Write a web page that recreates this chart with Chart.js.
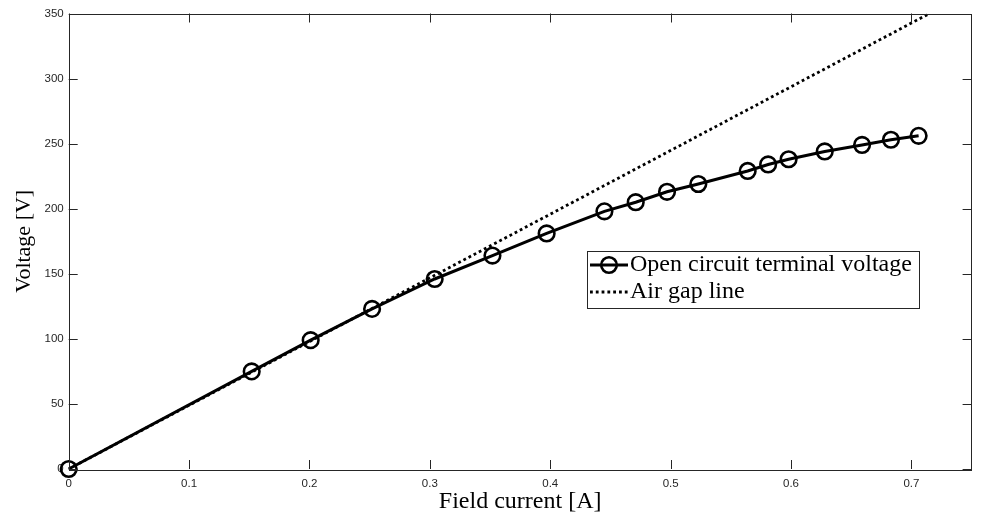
<!DOCTYPE html>
<html>
<head>
<meta charset="utf-8">
<script src="https://cdn.jsdelivr.net/npm/chart.js@4"></script>
<style>
  html, body { margin: 0; padding: 0; background: #fff; }
  #wrap { width: 982px; height: 517px; position: relative; }
</style>
</head>
<body>
<div id="wrap"><canvas id="c" width="982" height="517"></canvas></div>
<script>
// ---- data ----
const fieldCurrent = [0, 0.152, 0.201, 0.252, 0.304, 0.352, 0.397, 0.445, 0.471, 0.497, 0.523, 0.564, 0.581, 0.598, 0.628, 0.659, 0.683, 0.706];
const terminalVoltage = [0, 75, 99, 123, 146, 164, 181, 198, 205, 213, 219, 229, 234, 238, 244, 249, 253, 256];
const airGapCurrent = [0, 0.715];
const airGapVoltage = [0, 350];
const xTicks = [0, 0.1, 0.2, 0.3, 0.4, 0.5, 0.6, 0.7];
const yTicks = [0, 50, 100, 150, 200, 250, 300, 350];
const seriesNames = ['Open circuit terminal voltage', 'Air gap line'];
const xTitle = 'Field current [A]';
const yTitle = 'Voltage [V]';

const AXIS = '#262626';
const SERIF = '"Liberation Serif", "Times New Roman", serif';
const SANS = '"Liberation Sans", Arial, Helvetica, sans-serif';

const curve = fieldCurrent.map((x, i) => ({x, y: terminalVoltage[i]}));
const airGap = airGapCurrent.map((x, i) => ({x, y: airGapVoltage[i]}));

// Inward ticks on all four sides + box
const boxPlugin = {
  id: 'box',
  afterDatasetsDraw(chart) {
    const {ctx, chartArea: a, scales: {x, y}} = chart;
    ctx.save();
    ctx.strokeStyle = AXIS;
    ctx.lineWidth = 1;
    const L = 9;
    ctx.beginPath();
    xTicks.forEach(v => {
      const px = Math.round(x.getPixelForValue(v)) + 0.5;
      ctx.moveTo(px, a.bottom); ctx.lineTo(px, a.bottom - L);
      ctx.moveTo(px, a.top); ctx.lineTo(px, a.top + L);
    });
    yTicks.forEach(v => {
      const py = Math.round(y.getPixelForValue(v)) + 0.5;
      ctx.moveTo(a.left, py); ctx.lineTo(a.left + L, py);
      ctx.moveTo(a.right, py); ctx.lineTo(a.right - L, py);
    });
    ctx.stroke();
    ctx.strokeRect(Math.round(a.left) + 0.5, Math.round(a.top) + 0.5,
                   Math.round(a.right - a.left) - 1, Math.round(a.bottom - a.top));
    ctx.restore();
  }
};

// Legend box drawn inside the plot
const legendPlugin = {
  id: 'boxLegend',
  afterDraw(chart) {
    const {ctx} = chart;
    const ds = chart.data.datasets;
    const bx = 587.5, by = 251.5, bw = 332, bh = 57;
    ctx.save();
    ctx.fillStyle = '#fff';
    ctx.fillRect(bx, by, bw, bh);
    ctx.strokeStyle = AXIS;
    ctx.lineWidth = 1;
    ctx.strokeRect(bx, by, bw, bh);
    const rows = [265, 292];
    ds.forEach((d, i) => {
      const yy = rows[i];
      ctx.strokeStyle = '#000';
      ctx.lineWidth = d.borderWidth;
      ctx.setLineDash(d.borderDash || []);
      ctx.beginPath();
      ctx.moveTo(590, yy); ctx.lineTo(628, yy);
      ctx.stroke();
      ctx.setLineDash([]);
      if (d.pointRadius > 0) {
        ctx.lineWidth = d.pointBorderWidth;
        ctx.beginPath();
        ctx.arc(609, yy, d.pointRadius, 0, Math.PI * 2);
        ctx.stroke();
      }
      ctx.fillStyle = '#000';
      ctx.font = '24px ' + SERIF;
      ctx.textBaseline = 'middle';
      ctx.textAlign = 'left';
      ctx.fillText(d.label, 630, yy);
    });
    ctx.restore();
  }
};

new Chart(document.getElementById('c'), {
  type: 'scatter',
  data: {
    datasets: [
      {
        label: seriesNames[0],
        data: curve,
        showLine: true,
        borderColor: '#000',
        borderWidth: 3,
        pointRadius: 7.8,
        pointHoverRadius: 7.8,
        pointBorderWidth: 2.6,
        pointBorderColor: '#000',
        pointBackgroundColor: 'rgba(0,0,0,0)',
        clip: false,
        order: 1
      },
      {
        label: seriesNames[1],
        data: airGap,
        showLine: true,
        borderColor: '#000',
        borderWidth: 2.8,
        borderDash: [2.8, 3],
        borderCapStyle: 'butt',
        pointRadius: 0,
        order: 0
      }
    ]
  },
  options: {
    responsive: false,
    animation: false,
    devicePixelRatio: 1,
    layout: { padding: { top: 13.5, right: 1, left: 0, bottom: 0 } },
    plugins: { legend: { display: false }, tooltip: { enabled: false } },
    scales: {
      x: {
        type: 'linear',
        min: 0, max: 0.75,
        afterBuildTicks(s) { s.ticks = xTicks.map(v => ({value: v})); },
        afterFit(s) { s.height = 48; },
        grid: { display: false, drawTicks: false },
        border: { display: false },
        ticks: {
          autoSkip: false, maxRotation: 0, padding: 8,
          color: AXIS, font: { family: SANS, size: 11.5 },
          callback: v => String(Math.round(v * 10) / 10)
        },
        title: {
          display: true, text: xTitle, color: '#000',
          font: { family: SERIF, size: 24, lineHeight: 1.2 },
          padding: { top: 0, bottom: 1 }
        }
      },
      y: {
        type: 'linear',
        min: 0, max: 350,
        afterBuildTicks(s) { s.ticks = yTicks.map(v => ({value: v})); },
        afterFit(s) { s.width = 68.7; },
        grid: { display: false, drawTicks: false },
        border: { display: false },
        ticks: {
          autoSkip: false, padding: 5,
          color: AXIS, font: { family: SANS, size: 11.5 }
        },
        title: {
          display: true, text: yTitle, color: '#000',
          font: { family: SERIF, size: 22, lineHeight: 1.2 },
          padding: { top: 11, bottom: 0 }
        }
      }
    }
  },
  plugins: [boxPlugin, legendPlugin]
});
</script>
</body>
</html>
